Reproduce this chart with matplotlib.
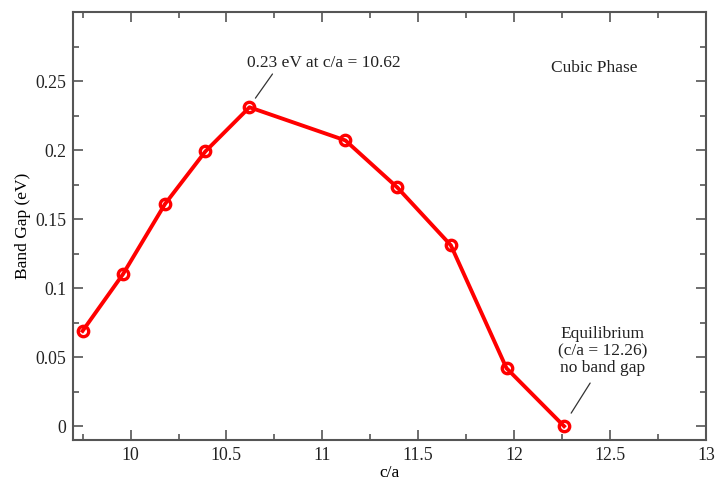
import matplotlib
matplotlib.use("Agg")
import matplotlib.pyplot as plt
from matplotlib.ticker import MultipleLocator

c_over_a = [9.75, 9.96, 10.18, 10.39, 10.62, 11.12, 11.39, 11.67, 11.96, 12.26]
band_gap = [0.069, 0.110, 0.161, 0.199, 0.231, 0.207, 0.173, 0.131, 0.042, 0.0]
x_ticks = [10, 10.5, 11, 11.5, 12, 12.5, 13]
y_ticks = [0, 0.05, 0.1, 0.15, 0.2, 0.25]
y_tick_labels = ["0", "0.05", "0.1", "0.15", "0.2", "0.25"]

plt.rcParams['font.family'] = ['Liberation Serif', 'DejaVu Serif']
fig = plt.figure(figsize=(7.19, 4.80), dpi=100)
ax = fig.add_axes([73/719, 1-440/480, (706-73)/719, (440-12)/480])

ax.plot(c_over_a, band_gap, color='#ff0000', lw=2.8, marker='o', ms=7.5,
        mfc='none', mec='#ff0000', mew=2.4, zorder=3)

ax.set_xlim(9.7, 13)
ax.set_ylim(-0.01, 0.3)
ax.set_xticks(x_ticks)
ax.set_xticklabels([f"{t:g}" for t in x_ticks])
ax.set_yticks(y_ticks)
ax.set_yticklabels(y_tick_labels)
ax.xaxis.set_minor_locator(MultipleLocator(0.25))
ax.yaxis.set_minor_locator(MultipleLocator(0.025))
spine_col = '#555555'
for s in ax.spines.values():
    s.set_color(spine_col)
    s.set_linewidth(1.5)
ax.tick_params(which='both', direction='in', top=True, right=True, color=spine_col,
               width=1.2, labelsize=12.8, labelcolor='#222222')
ax.tick_params(which='major', length=7)
ax.tick_params(which='minor', length=4)
ax.tick_params(axis='x', pad=5)
ax.tick_params(axis='y', pad=5)

ax.set_xlabel("c/a", fontsize=12.5, labelpad=1)
ax.set_ylabel("Band Gap (eV)", fontsize=12.5, labelpad=2.5)

txt_col = '#222222'
ax.text(11.01, 0.263, "0.23 eV at c/a = 10.62", ha='center', va='center', fontsize=12.5, color=txt_col)
ax.annotate("", xy=(10.651, 0.2376), xytext=(10.74, 0.2551),
            arrowprops=dict(arrowstyle='-', color='#333333', lw=0.9, shrinkA=0, shrinkB=0))
ax.text(12.42, 0.2595, "Cubic Phase", ha='center', va='center', fontsize=12.5, color=txt_col)
ax.text(12.46, 0.0545, "Equilibrium\n(c/a = 12.26)\nno band gap", ha='center', va='center',
        fontsize=12.5, color=txt_col, linespacing=1.08)
ax.annotate("", xy=(12.297, 0.00945), xytext=(12.396, 0.03125),
            arrowprops=dict(arrowstyle='-', color='#333333', lw=0.9, shrinkA=0, shrinkB=0))

fig.savefig("out.png", dpi=100)
